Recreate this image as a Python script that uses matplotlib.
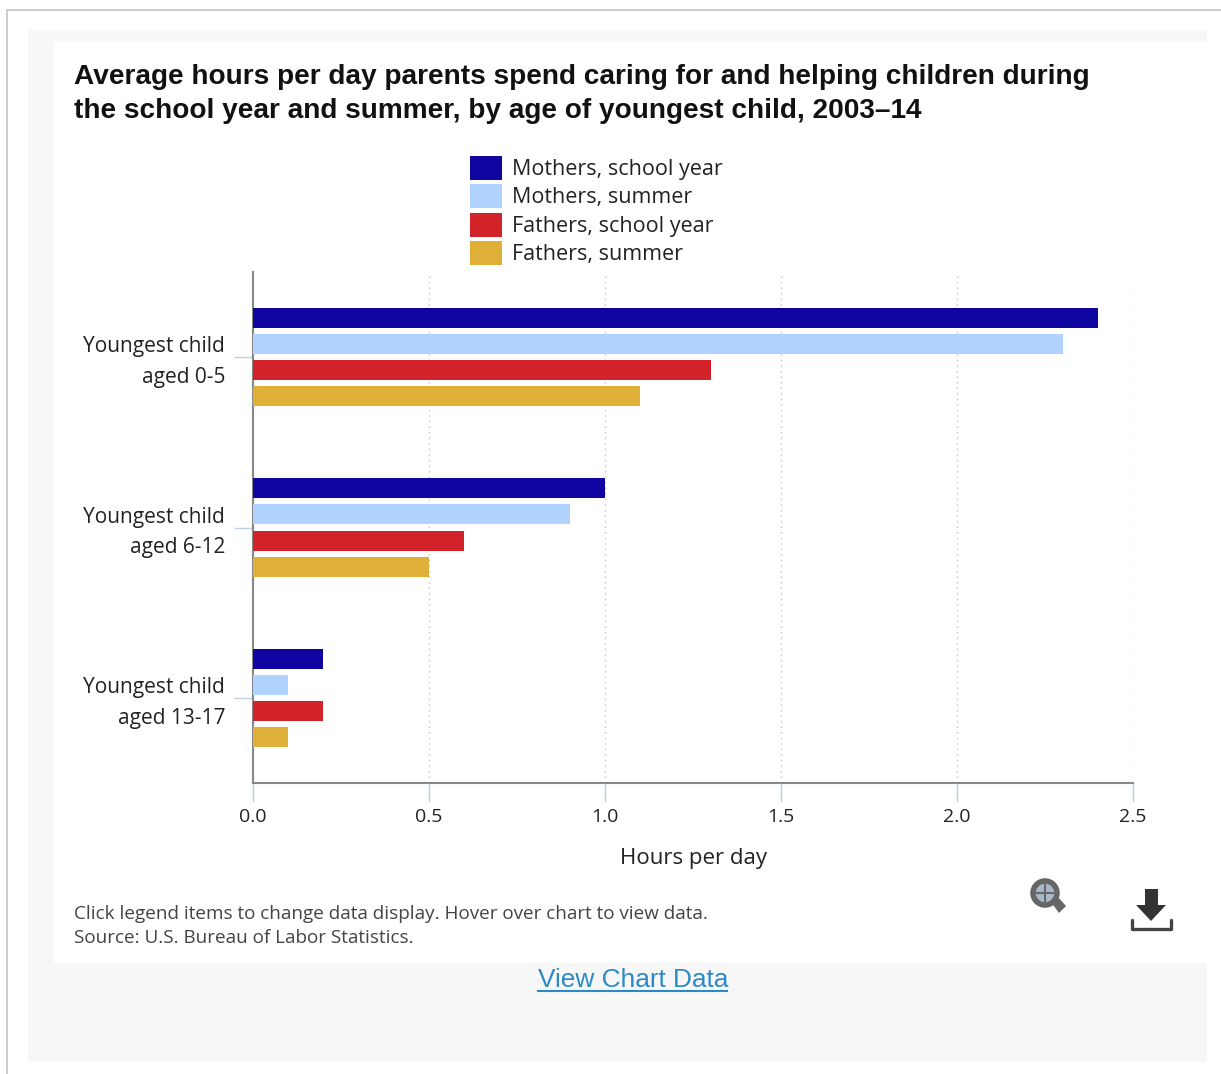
# %% Average hours per day parents spend caring for children

import numpy as np
import matplotlib
matplotlib.use('Agg')
import matplotlib.pyplot as plt
from matplotlib.patches import Rectangle, Circle, Polygon
from matplotlib.transforms import ScaledTranslation

# %% Data

age_groups = ['Youngest child\naged 0-5', 'Youngest child\naged 6-12', 'Youngest child\naged 13-17']
series_names = ['Mothers, school year', 'Mothers, summer', 'Fathers, school year', 'Fathers, summer']
mothers_school = [2.4, 1.0, 0.2]
mothers_summer = [2.3, 0.9, 0.1]
fathers_school = [1.3, 0.6, 0.2]
fathers_summer = [1.1, 0.5, 0.1]
x_ticks = [0.0, 0.5, 1.0, 1.5, 2.0, 2.5]

colours = ['#1005a0', '#afd2ff', '#d2232a', '#deb038']

# %% Figure and page background, in pixel coordinates

W, H = 1221, 1074
fig = plt.figure(figsize=(W / 100, H / 100), dpi=100, facecolor='white')

bg = fig.add_axes([0, 0, 1, 1], zorder=0)
bg.set_xlim(0, W)
bg.set_ylim(H, 0)
bg.axis('off')
bg.plot([7, 7, W], [H, 9.5, 9.5], color='#cccccc', lw=1.4)
bg.add_patch(Rectangle((28, 30), 1179, 1032, fc='#f7f7f7', ec='none'))
bg.add_patch(Rectangle((54, 42), 1153, 921, fc='white', ec='none'))

# %% Bars

ax = fig.add_axes([253 / W, 1 - 783 / H, (1133 - 253) / W, (783 - 272) / H], zorder=1)
ax.patch.set_alpha(0)

y = np.arange(len(age_groups))
bar_h = 20 / 170
step = 26 / 170
all_series = [mothers_school, mothers_summer, fathers_school, fathers_summer]
for i, vals in enumerate(all_series):
    ax.barh(y + (i - 1.5) * step, vals, height=bar_h, color=colours[i],
            label=series_names[i], zorder=3)

ax.set_xlim(0, 2.5)
ax.set_ylim(2.5, -0.5)
ax.set_xticks(x_ticks)
ax.set_xticklabels([f'{t:.1f}' for t in x_ticks], fontfamily='Open Sans', fontsize=14, color='#222222')
ax.set_yticks(y)
ax.set_yticklabels(age_groups, fontfamily='Open Sans', fontsize=15, color='#222222',
                   linespacing=1.6, ha='right', va='center')
ax.tick_params(axis='x', length=14, width=1, color='#c0d0e0', pad=4)
ax.tick_params(axis='y', length=14, width=1, color='#c0d0e0', pad=6)

# Labels sit a little under their tick marks
label_shift = ScaledTranslation(0, -5 / 100, fig.dpi_scale_trans)
for label in ax.get_yticklabels():
    label.set_transform(label.get_transform() + label_shift)

ax.grid(axis='x', linestyle=(0, (1, 3)), color='#c4c4c4', lw=1, zorder=0)
ax.set_axisbelow(True)
for side in ['top', 'right']:
    ax.spines[side].set_visible(False)
for side in ['left', 'bottom']:
    ax.spines[side].set_color('#888888')
    ax.spines[side].set_linewidth(1.5)
ax.set_xlabel('Hours per day', fontfamily='Open Sans', fontsize=16, color='#222222', labelpad=16)

# %% Legend

fig.legend(loc='upper left', bbox_to_anchor=(470 / W, 1 - 156 / H), frameon=False, ncol=1,
           prop={'family': 'Open Sans', 'size': 15.5}, labelcolor='#222222',
           handlelength=1.49, handleheight=1.34, labelspacing=0.19, handletextpad=0.47,
           borderpad=0, borderaxespad=0)

# %% Title, notes and link

bg.text(74, 77, 'Average hours per day parents spend caring for and helping children during',
        fontfamily='Liberation Sans', fontweight='bold', fontsize=20.2, color='#111111', va='center')
bg.text(74, 111, 'the school year and summer, by age of youngest child, 2003\u201314',
        fontfamily='Liberation Sans', fontweight='bold', fontsize=20.2, color='#111111', va='center')
bg.text(74, 914, 'Click legend items to change data display. Hover over chart to view data.',
        fontfamily='Open Sans', fontsize=13.6, color='#444444', va='center')
bg.text(74, 938, 'Source: U.S. Bureau of Labor Statistics.',
        fontfamily='Open Sans', fontsize=13.6, color='#444444', va='center')
bg.text(633, 980, 'View Chart Data', fontfamily='Liberation Sans', fontsize=18.9, color='#2b8ac6',
        ha='center', va='center')
bg.plot([538, 727], [990.5, 990.5], color='#2b8ac6', lw=1.5)

# %% Zoom and download icons

bg.add_patch(Polygon([[1051, 902], [1057, 896], [1066, 906], [1059, 913]], fc='#666666', ec='none'))
bg.add_patch(Circle((1045, 893), 12, fc='#a9b8c8', ec='#666666', lw=4))
bg.plot([1045, 1045], [885, 901], color='#666666', lw=1.5)
bg.plot([1037, 1053], [893, 893], color='#666666', lw=1.5)
bg.add_patch(Polygon([[1145, 889], [1158, 889], [1158, 905], [1166, 905], [1151, 921], [1136, 905], [1145, 905]],
                     fc='#333333', ec='none'))
bg.plot([1132, 1132, 1171, 1171], [920, 929, 929, 920], color='#444444', lw=2.4, solid_capstyle='round')

fig.savefig('out.png', dpi=100)
